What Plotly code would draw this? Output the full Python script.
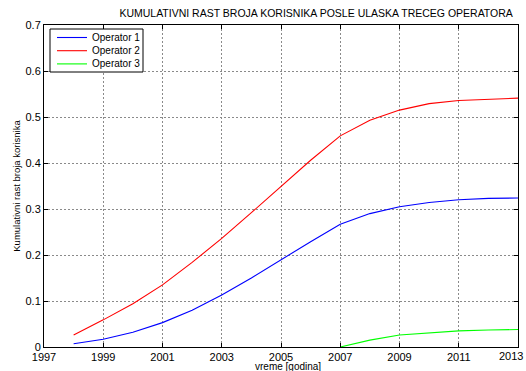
import plotly.graph_objects as go

years = list(range(1998, 2014))
op1 = [0.007, 0.017, 0.032, 0.053, 0.080, 0.113, 0.150, 0.190, 0.229, 0.267,
       0.290, 0.305, 0.314, 0.320, 0.323, 0.324]
op2 = [0.026, 0.059, 0.094, 0.135, 0.184, 0.236, 0.292, 0.350, 0.406, 0.459,
       0.493, 0.515, 0.529, 0.536, 0.539, 0.541]
years3 = list(range(2007, 2014))
op3 = [0.000, 0.015, 0.026, 0.031, 0.035, 0.037, 0.038]

names = ["Operator 1", "Operator 2", "Operator 3"]
colors = ["#0000ff", "#ff0000", "#00ff00"]

xticks = list(range(1997, 2014, 2))
xtick_main = xticks[:-1]          # last label drawn separately so it fits
yticks = [0, 0.1, 0.2, 0.3, 0.4, 0.5, 0.6, 0.7]
ytick_text = ["0", "0.1", "0.2", "0.3", "0.4", "0.5", "0.6", "0.7"]

font = "Liberation Sans, Arial, Helvetica, sans-serif"

W, H = 526, 371
ML, MR, MT, MB = 44, 8, 25, 24
PW, PH = W - ML - MR, H - MT - MB


def px(xp):
    return (xp - ML) / PW


def py(yp):
    return (H - MB - yp) / PH


fig = go.Figure()
for xs, ys, n, c in [(years, op1, names[0], colors[0]),
                     (years, op2, names[1], colors[1]),
                     (years3, op3, names[2], colors[2])]:
    fig.add_trace(go.Scatter(x=xs, y=ys, mode="lines", name=n,
                             line=dict(color=c, width=1.1), showlegend=False,
                             hoverinfo="skip"))

axis_common = dict(
    showline=True, linecolor="black", linewidth=1, mirror="allticks",
    ticks="inside", ticklen=4, tickcolor="black",
    showgrid=True, gridcolor="#8a8a8a", griddash="2px,2px", gridwidth=1,
    zeroline=False, tickfont=dict(family=font, size=11, color="black"),
    automargin=False,
)

shapes = [dict(type="rect", xref="paper", yref="paper",
               x0=px(50), x1=px(143), y0=py(72), y1=py(29),
               line=dict(color="black", width=1), fillcolor="white", layer="above")]
annotations = []
for i, (n, c) in enumerate(zip(names, colors)):
    yy = 37.5 + i * 13.2
    shapes.append(dict(type="line", xref="paper", yref="paper",
                       x0=px(57), x1=px(87), y0=py(yy), y1=py(yy),
                       line=dict(color=c, width=1.1), layer="above"))
    annotations.append(dict(text=n, xref="paper", yref="paper", x=px(90), y=py(yy),
                            xanchor="left", yanchor="middle", showarrow=False,
                            font=dict(family=font, size=10, color="black")))

# last x tick label, nudged left to stay inside the page
annotations.append(dict(text=str(xticks[-1]), xref="x", yref="paper",
                        x=xticks[-1], y=0, xanchor="right", yanchor="top",
                        xshift=7, yshift=-1, showarrow=False,
                        font=dict(family=font, size=11, color="black")))

annotations.append(dict(text="vreme [godina]", xref="paper", yref="paper",
                        x=px(288), y=0, xanchor="center", yanchor="middle",
                        yshift=-19, showarrow=False,
                        font=dict(family=font, size=10, color="black")))

fig.update_layout(
    width=W, height=H,
    margin=dict(l=ML, r=MR, t=MT, b=MB),
    paper_bgcolor="white", plot_bgcolor="white",
    font=dict(family=font, size=11, color="black"),
    title=dict(text="KUMULATIVNI RAST BROJA KORISNIKA POSLE ULASKA TRECEG OPERATORA",
               x=0.601, xanchor="center", y=0.965, yanchor="middle",
               font=dict(family=font, size=10.5, color="black")),
    xaxis=dict(range=[1997, 2013], tickvals=xtick_main, **axis_common),
    yaxis=dict(range=[0, 0.7], tickvals=yticks, ticktext=ytick_text,
               title=dict(text="Kumulativni rast broja korisnika", standoff=3,
                          font=dict(family=font, size=9.5, color="black")),
               **axis_common),
    shapes=shapes,
    annotations=annotations,
    showlegend=False,
    hovermode=False,
)

fig.write_html("out.html",
               config={"displayModeBar": False},
               post_script="document.body.style.margin='0';"
                           "document.body.style.overflow='hidden';")
